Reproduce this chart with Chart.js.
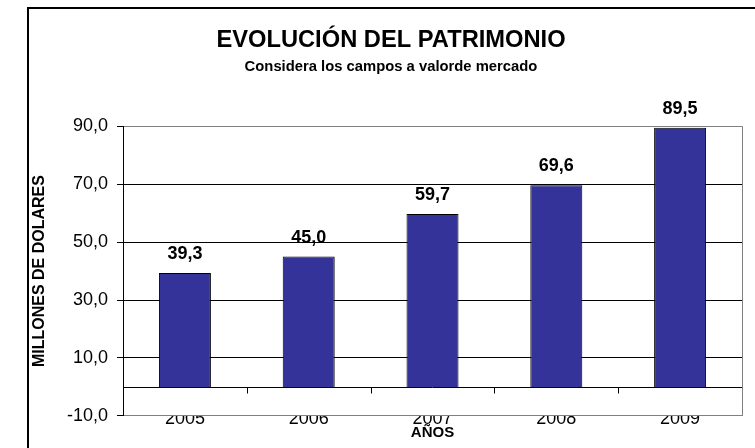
<!DOCTYPE html>
<html>
<head>
<meta charset="utf-8">
<script src="https://cdn.jsdelivr.net/npm/chart.js@4.4.1/dist/chart.umd.min.js"></script>
<style>
  html, body { margin: 0; padding: 0; background: #fff; overflow: hidden; }
  #wrap { width: 755px; height: 448px; }
</style>
</head>
<body>
<div id="wrap"><canvas id="Chart" width="755" height="448"></canvas></div>
<script>
// data
var years = ['2005', '2006', '2007', '2008', '2009'];
var patrimonio = [39.3, 45.0, 59.7, 69.6, 89.5];
var yMin = -10, yMax = 90, yStep = 20;

var FONT = "'Liberation Sans', Arial, sans-serif";

function coma(v) {
  return Number(v).toFixed(1).replace('.', ',');
}

// outer frame, zero line, category ticks, right edge
var extras = {
  id: 'extras',
  beforeDraw: function(chart) {
    var ctx = chart.ctx;
    ctx.save();
    ctx.fillStyle = '#fff';
    ctx.fillRect(0, 0, chart.width, chart.height);
    ctx.strokeStyle = '#000';
    ctx.lineWidth = 2;
    ctx.strokeRect(28, 8, 800, 500);
    ctx.restore();
  },
  beforeDatasetsDraw: function(chart) {
    var ctx = chart.ctx, a = chart.chartArea;
    var x = chart.scales.x, y = chart.scales.y;
    var y0 = Math.round(y.getPixelForValue(0)) + 0.5;
    ctx.save();
    ctx.lineWidth = 1;
    ctx.strokeStyle = '#808080';
    ctx.beginPath();
    ctx.moveTo(Math.round(a.right) + 0.5, a.top);
    ctx.lineTo(Math.round(a.right) + 0.5, a.bottom);
    ctx.stroke();
    ctx.strokeStyle = '#000';
    ctx.beginPath();
    ctx.moveTo(a.left, y0);
    ctx.lineTo(a.right, y0);
    for (var i = 1; i < years.length; i++) {
      var tx = Math.round((x.getPixelForValue(i - 1) + x.getPixelForValue(i)) / 2) + 0.5;
      ctx.moveTo(tx, y0);
      ctx.lineTo(tx, y0 + 6);
    }
    ctx.stroke();
    ctx.restore();
  },
  afterDatasetsDraw: function(chart) {
    var ctx = chart.ctx;
    var meta = chart.getDatasetMeta(0);
    ctx.save();
    ctx.font = 'bold 18px ' + FONT;
    ctx.fillStyle = '#000';
    ctx.textAlign = 'center';
    ctx.textBaseline = 'alphabetic';
    meta.data.forEach(function(bar, i) {
      ctx.fillText(coma(patrimonio[i]), bar.x, bar.y - 14);
    });
    ctx.restore();
  }
};

var chart = new Chart('Chart', {
  type: 'bar',
  data: {
    labels: years,
    datasets: [{
      data: patrimonio,
      backgroundColor: '#333399',
      borderColor: '#000',
      borderWidth: 1,
      barPercentage: 0.42,
      categoryPercentage: 1
    }]
  },
  options: {
    responsive: false,
    animation: false,
    events: [],
    layout: {
      padding: { left: 40, right: 13, top: 0, bottom: 6.5 }
    },
    plugins: {
      legend: { display: false },
      tooltip: { enabled: false },
      title: {
        display: true,
        text: 'EVOLUCIÓN DEL PATRIMONIO',
        color: '#000',
        font: { family: FONT, size: 23.7, weight: 'bold' },
        padding: { top: 26.5, bottom: 0 }
      },
      subtitle: {
        display: true,
        text: 'Considera los campos a valorde mercado',
        color: '#000',
        font: { family: FONT, size: 14.8, weight: 'bold' },
        padding: { top: 3.5, bottom: 50 }
      }
    },
    scales: {
      x: {
        grid: { display: false, drawTicks: false },
        border: { display: true, color: '#808080' },
        ticks: {
          color: '#000',
          padding: -8,
          font: { family: FONT, size: 18 }
        },
        title: {
          display: true,
          text: 'AÑOS',
          color: '#000',
          font: { family: FONT, size: 15, weight: 'bold' },
          padding: { top: 2, bottom: 0 }
        }
      },
      y: {
        min: yMin,
        max: yMax,
        grid: {
          tickLength: 6,
          color: function(c) {
            var v = c.tick ? c.tick.value : 0;
            return (v === yMin || v === yMax) ? '#808080' : '#000';
          },
          tickColor: '#000'
        },
        border: { display: true, color: '#000' },
        ticks: {
          stepSize: yStep,
          color: '#000',
          padding: 9,
          font: { family: FONT, size: 18 },
          callback: function(v) { return coma(v); }
        },
        title: {
          display: true,
          text: 'MILLONES DE DOLARES',
          color: '#000',
          font: { family: FONT, size: 16, weight: 'bold' },
          padding: { top: -9.6, bottom: 8.4 }
        }
      }
    }
  },
  plugins: [extras]
});
</script>
</body>
</html>
